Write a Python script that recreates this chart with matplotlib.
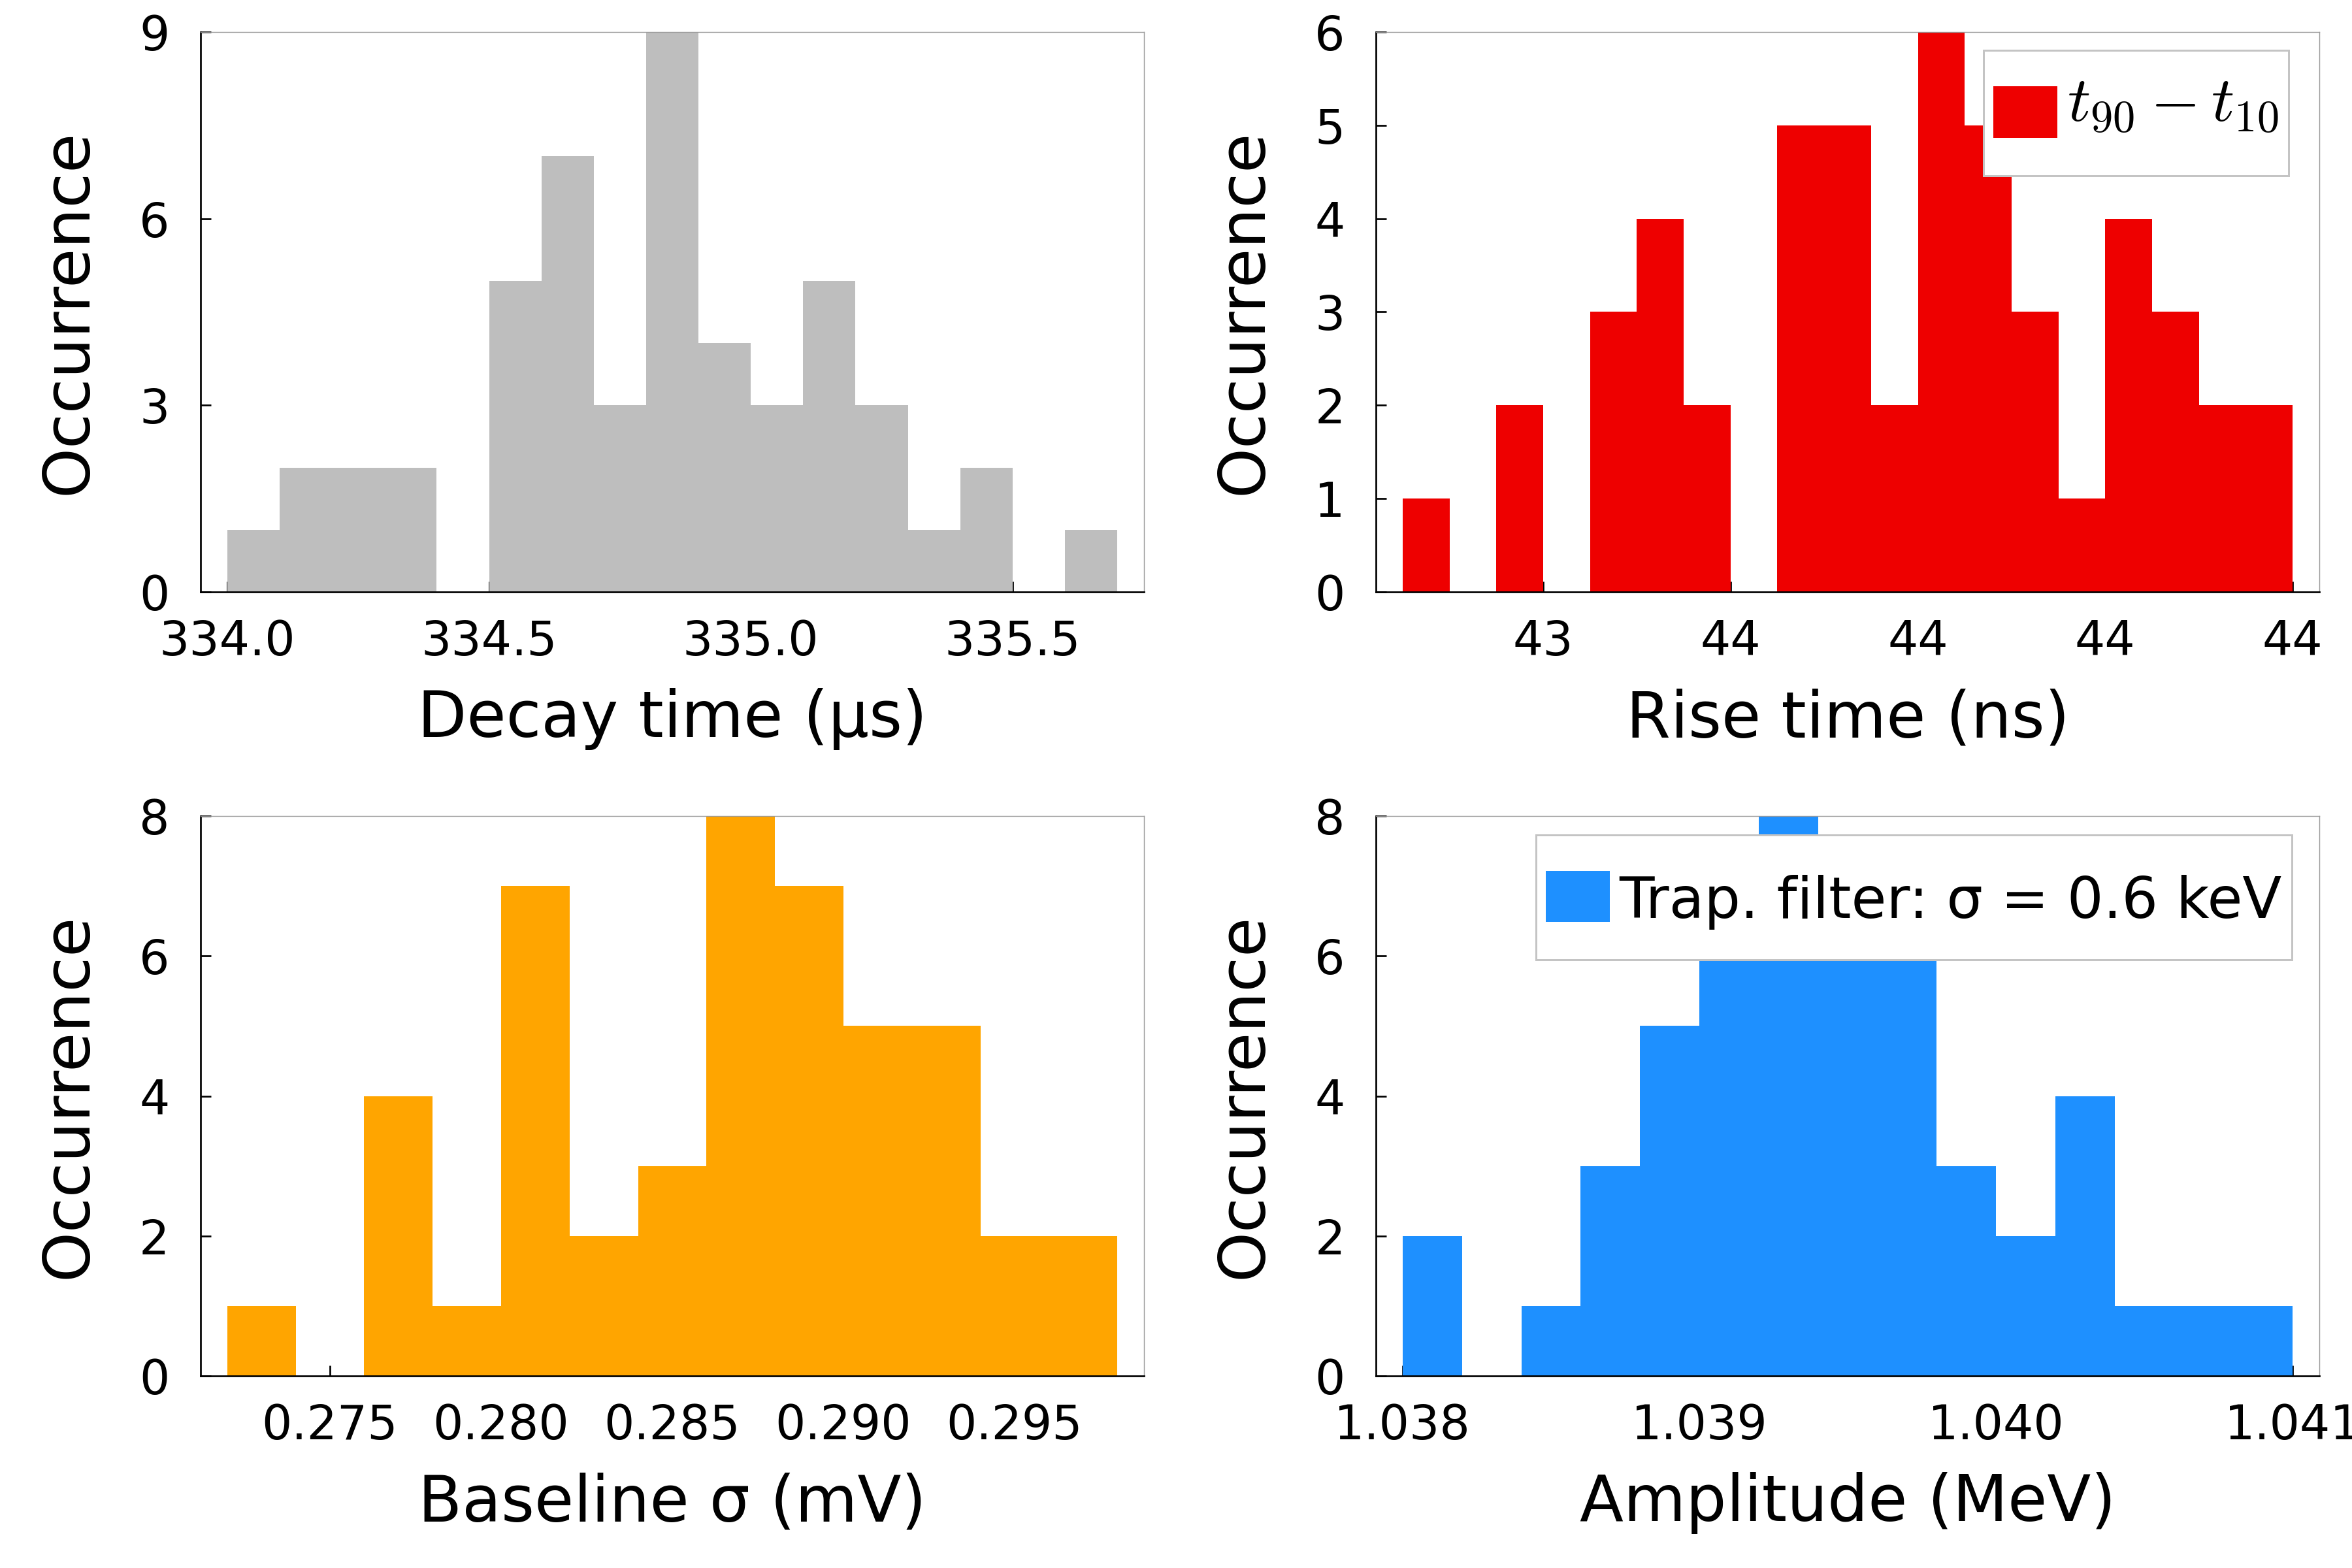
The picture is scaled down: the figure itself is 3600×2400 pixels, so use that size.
import numpy as np
import matplotlib
matplotlib.use("Agg")
import matplotlib.pyplot as plt
from matplotlib.patches import Patch, Rectangle
from matplotlib.legend_handler import HandlerBase

# counts per bin (50 events per panel, 47 in baseline)
decay_counts = [1, 2, 2, 2, 0, 5, 7, 3, 9, 4, 3, 5, 3, 1, 2, 0, 1]
decay_range = (334.0, 335.7)
decay_xticks = [334.0, 334.5, 335.0, 335.5]
decay_xticklabels = ["334.0", "334.5", "335.0", "335.5"]
decay_yticks = [0, 3, 6, 9]

rise_counts = [1, 0, 2, 0, 3, 4, 2, 0, 5, 5, 2, 6, 5, 3, 1, 4, 3, 2, 2]
rise_range = (43.25, 44.20)
rise_xticks = [43.4, 43.6, 43.8, 44.0, 44.2]
rise_xticklabels = ["43", "44", "44", "44", "44"]
rise_yticks = [0, 1, 2, 3, 4, 5, 6]

base_counts = [1, 0, 4, 1, 7, 2, 3, 8, 7, 5, 5, 2, 2]
base_range = (0.272, 0.298)
base_xticks = [0.275, 0.280, 0.285, 0.290, 0.295]
base_xticklabels = ["0.275", "0.280", "0.285", "0.290", "0.295"]
base_yticks = [0, 2, 4, 6, 8]

amp_counts = [2, 0, 1, 3, 5, 6, 8, 6, 6, 3, 2, 4, 1, 1, 1]
amp_range = (1.0380, 1.0410)
amp_xticks = [1.038, 1.039, 1.040, 1.041]
amp_xticklabels = ["1.038", "1.039", "1.040", "1.041"]
amp_yticks = [0, 2, 4, 6, 8]

DPI = 300
PX = 72.0 / DPI  # one pixel in points

plt.rcParams["font.family"] = ["DejaVu Sans"]
plt.rcParams["mathtext.fontset"] = "cm"


class BoxHandler(HandlerBase):
    # legend handle: filled box, entry height set by hand (all in pixels)
    def __init__(self, above, below, box_h, box_mid):
        super().__init__()
        self.above, self.below = above, below
        self.box_h, self.box_mid = box_h, box_mid

    def legend_artist(self, legend, orig_handle, fontsize, handlebox):
        handlebox.ydescent = self.below * PX
        handlebox.height = (self.above + self.below) * PX
        h = self.box_h * PX
        p = Rectangle((0, self.box_mid * PX - h / 2), handlebox.width, h,
                      facecolor=orig_handle.get_facecolor(), linewidth=0,
                      transform=handlebox.get_transform())
        handlebox.add_artist(p)
        return p


def hist_panel(ax, counts, rng, color, xlabel, xticks, xticklabels, yticks):
    counts = np.asarray(counts)
    edges = np.linspace(rng[0], rng[1], len(counts) + 1)
    ax.stairs(counts, edges, fill=True, color=color, linewidth=0)
    pad = 0.03 * (edges[-1] - edges[0])
    ax.set_xlim(edges[0] - pad, edges[-1] + pad)
    ax.set_ylim(0, counts.max())
    ax.set_xticks(xticks)
    ax.set_xticklabels(xticklabels)
    ax.set_yticks(yticks)
    ax.set_axisbelow(True)
    ax.tick_params(direction="in", length=16 * PX, width=2.7 * PX,
                   labelsize=17.5, top=False, right=False)
    ax.tick_params(axis="x", pad=9.8)
    ax.tick_params(axis="y", pad=11.4)
    for s in ("left", "bottom"):
        ax.spines[s].set_color("black")
        ax.spines[s].set_linewidth(2.7 * PX)
    for s in ("top", "right"):
        ax.spines[s].set_color("#9a9a9a")
        ax.spines[s].set_linewidth(1.4 * PX)
    ax.set_xlabel(xlabel, fontsize=23.5)
    ax.set_ylabel("Occurrence", fontsize=23.5)
    ax.xaxis.set_label_coords(0.5, -0.172)
    ax.yaxis.set_label_coords(-0.107, 0.5)


def add_legend(ax, color, label, fsize, above, below, box_h, box_mid, anchor):
    fpx = fsize / PX
    bp = 15.0
    handle = Patch(facecolor=color)
    leg = ax.legend([handle], [label], loc="upper right", bbox_to_anchor=anchor,
                    borderaxespad=0, fontsize=fsize, fancybox=False,
                    framealpha=1, edgecolor="#c4c4c4", borderpad=bp / fpx,
                    handlelength=98 / fpx, handletextpad=15 / fpx,
                    handler_map={Patch: BoxHandler(above - bp, below - bp,
                                                   box_h, box_mid)})
    leg.get_frame().set_linewidth(3 * PX)
    leg.set_zorder(5)
    return leg


fig = plt.figure(figsize=(12, 8), dpi=DPI)
W, H = 3600.0, 2400.0
cols = [307, 2106]
rows = [906, 2106]
aw, ah = 1444, 857
axes = [[fig.add_axes([c / W, 1 - r / H, aw / W, ah / H]) for c in cols] for r in rows]

hist_panel(axes[0][0], decay_counts, decay_range, "#bebebe", "Decay time (μs)",
           decay_xticks, decay_xticklabels, decay_yticks)
hist_panel(axes[0][1], rise_counts, rise_range, "#ee0000", "Rise time (ns)",
           rise_xticks, rise_xticklabels, rise_yticks)
hist_panel(axes[1][0], base_counts, base_range, "#ffa500", "Baseline σ (mV)",
           base_xticks, base_xticklabels, base_yticks)
hist_panel(axes[1][1], amp_counts, amp_range, "#1e90ff", "Amplitude (MeV)",
           amp_xticks, amp_xticklabels, amp_yticks)

add_legend(axes[0][1], "#ee0000", r"$t_{90} - t_{10}$", 23.5,
           109.7, 82.3, 79, 15.3, (1 - 47 / aw, 1 - 28 / ah))
add_legend(axes[1][1], "#1e90ff", "Trap. filter: σ = 0.6 keV", 21,
           127, 64, 78, 33, (1 - 42 / aw, 1 - 29 / ah))

fig.savefig("out.png", dpi=DPI, facecolor="white")
